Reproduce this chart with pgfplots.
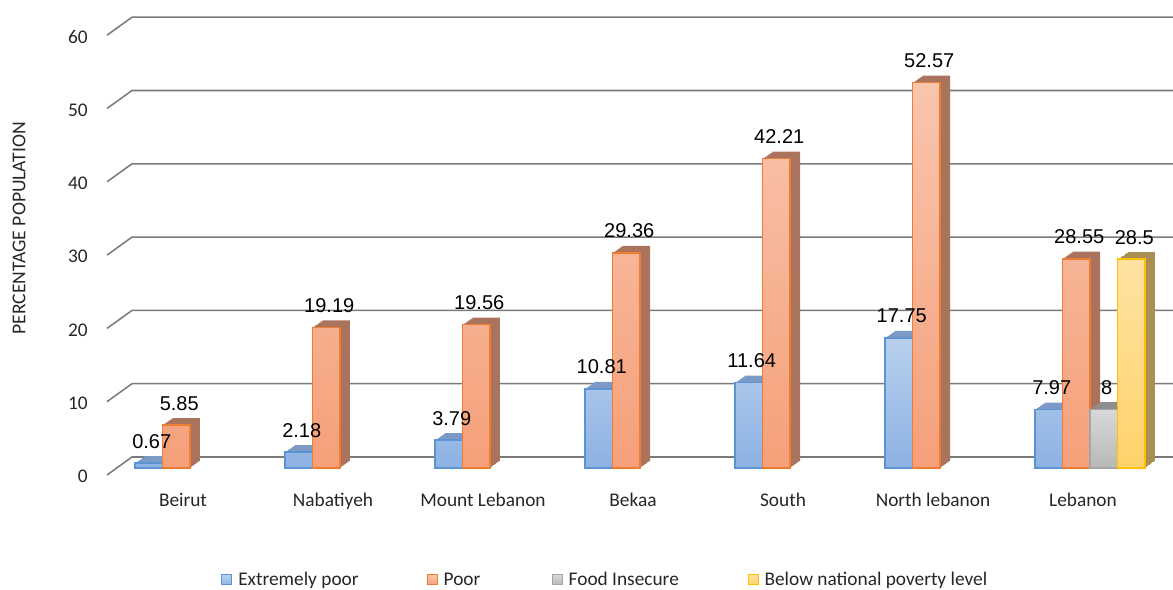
\documentclass[border=0pt]{standalone}
\usepackage{pgfplots}
\pgfplotsset{compat=1.18}
\usepackage{pgfplotstable}
\usepackage{fontspec}
\setmainfont{Carlito}
\newfontfamily\arialfont{Liberation Sans}

\definecolor{bluetop}{HTML}{B8D0EE}
\definecolor{bluebot}{HTML}{8DB2E2}
\definecolor{blueedge}{HTML}{5B93D3}
\definecolor{bluedepth}{HTML}{7B9AC6}
\definecolor{ortop}{HTML}{F9C5AE}
\definecolor{orbot}{HTML}{F5A07A}
\definecolor{oredge}{HTML}{EE7D32}
\definecolor{ordepth}{HTML}{A9735E}
\definecolor{grtop}{HTML}{D8D8D8}
\definecolor{grbot}{HTML}{B8B8B8}
\definecolor{gredge}{HTML}{A5A5A5}
\definecolor{grdepth}{HTML}{8E8E8E}
\definecolor{yetop}{HTML}{FFE2A2}
\definecolor{yebot}{HTML}{FFD36B}
\definecolor{yeedge}{HTML}{FFC000}
\definecolor{yedepth}{HTML}{A98E56}
\definecolor{gridc}{HTML}{7A7A7A}

\pgfplotstableread{
x ep p
0 0.67 5.85
1 2.18 19.19
2 3.79 19.56
3 10.81 29.36
4 11.64 42.21
5 17.75 52.57
6 7.97 28.55
}\maindata
\pgfplotstableread{
x fi
6 8
}\fooddata
\pgfplotstableread{
x bn
6 28.5
}\natdata

\begin{document}
\begin{tikzpicture}
\begin{axis}[
 x=112.5pt, y=5.4975pt, scale only axis,
 xmin=-0.5533, xmax=6.42, ymin=0, ymax=60,
 clip=false,
 axis line style={draw=none},
 major tick length=0pt,
 xtick={0,...,6},
 xticklabels={Beirut,Nabatiyeh,Mount Lebanon,Bekaa,South,North lebanon,Lebanon},
 ytick={0,10,...,60},
 /pgf/number format/assume math mode=true,
 tick label style={font=\fontsize{14.5pt}{17pt}\selectfont, text=black!85},
 xticklabel style={anchor=base, inner sep=0pt, xshift=-5.25pt, yshift=-28.5pt},
 yticklabel style={anchor=east, inner sep=0pt, xshift=-14.25pt, yshift=-6.5pt},
 ylabel={PERCENTAGE POPULATION},
 every axis y label/.style={at={(axis description cs:-0.0841,0.545)}, rotate=90, anchor=center, font=\fontsize{14.7pt}{17pt}\selectfont, text=black!85},
 ybar, bar width=0.1833,
 legend columns=4,
 legend style={at={(axis description cs:0.109,-0.2545)}, anchor=west, draw=none, fill=none, inner sep=0pt,
   font=\fontsize{14.5pt}{17pt}\selectfont, text=black!85,
   nodes={inner sep=0pt},
   /tikz/every odd column/.append style={column sep=4.5pt}},
 legend image code/.code={\draw[#1, line width=0.75pt] (0pt,-3.75pt) rectangle (7.5pt,3.75pt);},
 nodes near coords style={font=\arialfont\fontsize{15pt}{18pt}\selectfont, text=black, yshift=7.5pt, xshift=2.25pt},
]
\coordinate (O) at (axis cs:0,0);
\pgfplotsinvokeforeach{0,10,...,60}{
 \draw[gridc, line width=1.15pt] ([yshift=-5.25pt]axis cs:-0.5533,#1) -- ([yshift=8.25pt]axis cs:-0.3867,#1) -- ([yshift=8.25pt]axis cs:6.6,#1);
}
% Extremely poor
\pgfplotsinvokeforeach{10,9,...,1}{
 \addplot[forget plot, bar shift=-0.275, draw=none, fill=bluedepth, shift={(#1*0.75pt,#1*0.525pt)}] table[x=x,y=ep]{\maindata};
}
\addplot[bar shift=-0.275, draw=blueedge, line width=1.2pt, top color=bluetop, bottom color=bluebot] table[x=x,y=ep]{\maindata};
\addlegendentry{Extremely poor\hspace*{51pt}}
% Poor
\pgfplotsinvokeforeach{10,9,...,1}{
 \addplot[forget plot, bar shift=-0.0917, draw=none, fill=ordepth, shift={(#1*0.75pt,#1*0.525pt)}] table[x=x,y=p]{\maindata};
}
\addplot[bar shift=-0.0917, draw=oredge, line width=1.2pt, top color=ortop, bottom color=orbot] table[x=x,y=p]{\maindata};
\addlegendentry{Poor\hspace*{53.5pt}}
% Food insecure
\pgfplotsinvokeforeach{10,9,...,1}{
 \addplot[forget plot, bar shift=0.0917, draw=none, fill=grdepth, shift={(#1*0.75pt,#1*0.525pt)}] table[x=x,y=fi]{\fooddata};
}
\addplot[bar shift=0.0917, draw=gredge, line width=1.2pt, top color=grtop, bottom color=grbot] table[x=x,y=fi]{\fooddata};
\addlegendentry{Food Insecure\hspace*{51.5pt}}
% Below national poverty level
\pgfplotsinvokeforeach{10,9,...,1}{
 \addplot[forget plot, bar shift=0.275, draw=none, fill=yedepth, shift={(#1*0.75pt,#1*0.525pt)}] table[x=x,y=bn]{\natdata};
}
\addplot[bar shift=0.275, draw=yeedge, line width=1.2pt, top color=yetop, bottom color=yebot] table[x=x,y=bn]{\natdata};
\addlegendentry{Below national poverty level}
% value labels on top
\addplot[forget plot, bar shift=-0.275, draw=none, fill=none, nodes near coords] table[x=x,y=ep]{\maindata};
\addplot[forget plot, bar shift=-0.0917, draw=none, fill=none, nodes near coords] table[x=x,y=p]{\maindata};
\addplot[forget plot, bar shift=0.0917, draw=none, fill=none, nodes near coords] table[x=x,y=fi]{\fooddata};
\addplot[forget plot, bar shift=0.275, draw=none, fill=none, nodes near coords] table[x=x,y=bn]{\natdata};
\end{axis}
\pgfresetboundingbox
\path (O) ++(-142.5pt,-90.75pt) rectangle ++(879.75pt,441.75pt);
\end{tikzpicture}
\end{document}
